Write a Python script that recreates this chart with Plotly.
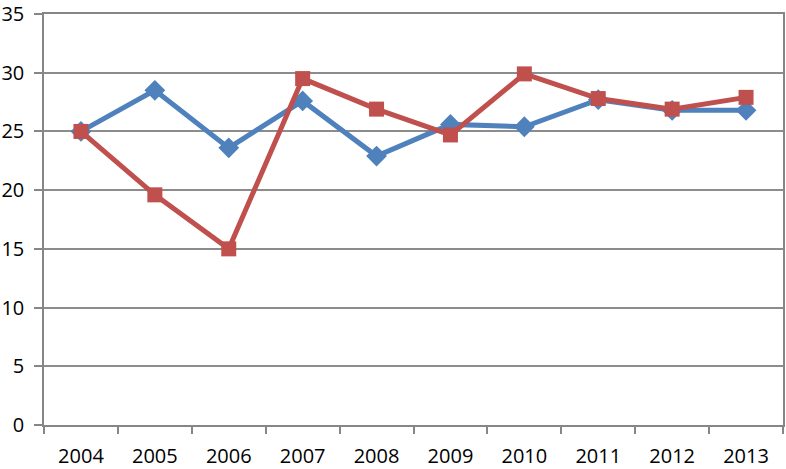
import plotly.graph_objects as go

years = ["2004", "2005", "2006", "2007", "2008", "2009", "2010", "2011", "2012", "2013"]
series_blue = [25.0, 28.5, 23.6, 27.6, 22.9, 25.6, 25.4, 27.7, 26.8, 26.8]
series_red = [25.0, 19.6, 15.0, 29.5, 26.9, 24.7, 29.9, 27.8, 26.9, 27.9]
y_ticks = [0, 5, 10, 15, 20, 25, 30, 35]

fig = go.Figure()
fig.add_trace(go.Scatter(
    x=years, y=series_blue, mode="lines+markers",
    line=dict(color="#4F81BD", width=5),
    marker=dict(symbol="diamond", size=16, color="#4F81BD"),
    showlegend=False,
))
fig.add_trace(go.Scatter(
    x=years, y=series_red, mode="lines+markers",
    line=dict(color="#C0504D", width=5),
    marker=dict(symbol="square", size=15, color="#C0504D"),
    showlegend=False,
))

font = dict(family="Open Sans", size=20, color="#000000")
fig.update_layout(
    width=786, height=469,
    margin=dict(l=44, r=3, t=14, b=44, autoexpand=False),
    paper_bgcolor="white", plot_bgcolor="white",
    font=font,
)
fig.update_xaxes(
    type="category", range=[-0.5, 9.5], tickson="boundaries",
    ticks="outside", ticklen=7, tickcolor="#868686", tickwidth=1.5,
    showline=True, linecolor="#868686", linewidth=1.5, mirror=True,
    showgrid=False, tickfont=font, automargin=False, ticklabelstandoff=12,
)
fig.update_yaxes(
    range=[0, 35], tickvals=y_ticks, ticks="outside", ticklen=8,
    tickcolor="#868686", tickwidth=1.5,
    showline=True, linecolor="#868686", linewidth=1.5, mirror=True,
    showgrid=True, gridcolor="#8C8C8C", gridwidth=1.5, zeroline=False,
    tickfont=font, automargin=False, ticklabelstandoff=6,
)
fig.write_html(
    "out.html",
    config={"displayModeBar": False},
    post_script="document.body.style.margin='0';",
)
